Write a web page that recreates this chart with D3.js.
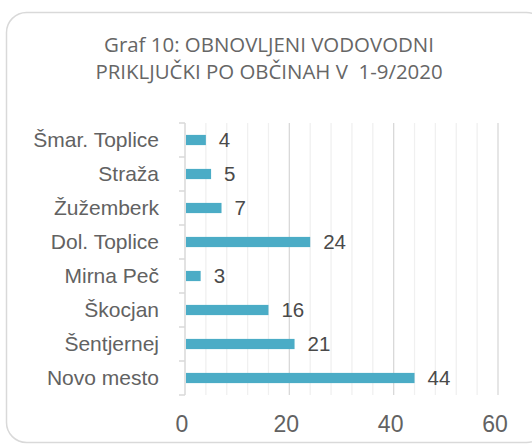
<!DOCTYPE html>
<html>
<head>
<meta charset="utf-8">
<script src="https://cdn.jsdelivr.net/npm/d3@7"></script>
<style>
  html, body { margin: 0; padding: 0; background: #fff; }
  svg { display: block; }
  .lbl { font-family: "Liberation Sans", Arial, Helvetica, sans-serif; }
  .ttl { font-family: "Open Sans", sans-serif; }
</style>
</head>
<body>
<div id="chart"></div>
<script>
(function(root){
    var d3 = root.d3;

    var titleLines = ["Graf 10: OBNOVLJENI VODOVODNI", "PRIKLJUČKI PO OBČINAH V  1-9/2020"];
    var categories = ["Šmar. Toplice", "Straža", "Žužemberk", "Dol. Toplice", "Mirna Peč", "Škocjan", "Šentjernej", "Novo mesto"];
    var values = [4, 5, 7, 24, 3, 16, 21, 44];
    var xTicks = [0, 20, 40, 60];
    var xMinorTicks = d3.range(0, 61, 4);

    var W = 532, H = 446;
    var plot = {left: 185, right: 498, top: 123, bottom: 395};

    var svg = d3.select("#chart").append("svg")
        .attr("width", W)
        .attr("height", H);

    // chart frame, right edge runs off the picture
    svg.append("rect")
        .attr("x", 6.5).attr("y", 12.5)
        .attr("width", 540).attr("height", 430)
        .attr("rx", 20).attr("ry", 20)
        .attr("fill", "#fff")
        .attr("stroke", "#d9d9d9")
        .attr("stroke-width", 1.5);

    var title = svg.append("g")
        .attr("class", "ttl")
        .attr("fill", "#666666");
    title.selectAll("text")
        .data(titleLines)
        .enter().append("text")
        .attr("x", 269)
        .attr("y", function(d, i){ return 52 + i * 27; })
        .attr("text-anchor", "middle")
        .style("white-space", "pre")
        .attr("font-size", 18)
        .text(function(d){ return d; });
    // fit title to the reference width
    var firstW = title.select("text").node().getComputedTextLength();
    title.selectAll("text").attr("font-size", 18 * 330 / firstW);

    var x = d3.scaleLinear()
        .domain([0, 60])
        .range([plot.left, plot.right]);

    var y = d3.scaleBand()
        .domain(categories)
        .range([plot.top, plot.bottom])
        .paddingInner(0.7)
        .paddingOuter(0.35);

    var step = (plot.bottom - plot.top) / categories.length;

    // minor gridlines
    svg.append("g").selectAll("line")
        .data(xMinorTicks.filter(function(t){ return t % 20 !== 0; }))
        .enter().append("line")
        .attr("x1", function(d){ return x(d); })
        .attr("x2", function(d){ return x(d); })
        .attr("y1", plot.top).attr("y2", plot.bottom)
        .attr("stroke", "#f0f0f0")
        .attr("stroke-width", 1.3);

    // major gridlines
    svg.append("g").selectAll("line")
        .data(xTicks.slice(1))
        .enter().append("line")
        .attr("x1", function(d){ return x(d); })
        .attr("x2", function(d){ return x(d); })
        .attr("y1", plot.top).attr("y2", plot.bottom)
        .attr("stroke", "#d9d9d9")
        .attr("stroke-width", 1.3);

    // category axis with ticks at band boundaries
    var yAxis = svg.append("g");
    yAxis.append("line")
        .attr("x1", plot.left).attr("x2", plot.left)
        .attr("y1", plot.top).attr("y2", plot.bottom)
        .attr("stroke", "#d9d9d9")
        .attr("stroke-width", 1.5);
    yAxis.selectAll("line.tick")
        .data(d3.range(categories.length + 1))
        .enter().append("line")
        .attr("class", "tick")
        .attr("x1", plot.left - 6).attr("x2", plot.left)
        .attr("y1", function(i){ return plot.top + i * step; })
        .attr("y2", function(i){ return plot.top + i * step; })
        .attr("stroke", "#d9d9d9")
        .attr("stroke-width", 1.5);
    yAxis.selectAll("text")
        .data(categories)
        .enter().append("text")
        .attr("class", "lbl")
        .attr("x", 159)
        .attr("y", function(d){ return y(d) + y.bandwidth() / 2; })
        .attr("dy", "0.35em")
        .attr("text-anchor", "end")
        .attr("font-size", 21)
        .attr("fill", "#626262")
        .text(function(d){ return d; });

    // value axis labels
    svg.append("g").selectAll("text")
        .data(xTicks)
        .enter().append("text")
        .attr("class", "lbl")
        .attr("x", function(d){ return x(d) - 3; })
        .attr("y", 432)
        .attr("text-anchor", "middle")
        .attr("font-size", 23)
        .attr("fill", "#626262")
        .text(function(d){ return d; });

    // bars
    svg.append("g").selectAll("rect")
        .data(values)
        .enter().append("rect")
        .attr("x", x(0) + 1)
        .attr("y", function(d, i){ return y(categories[i]); })
        .attr("width", function(d){ return x(d) - x(0) - 1; })
        .attr("height", y.bandwidth())
        .attr("fill", "#4bacc6");

    // data labels
    svg.append("g").selectAll("text")
        .data(values)
        .enter().append("text")
        .attr("class", "lbl")
        .attr("x", function(d){ return x(d) + 13; })
        .attr("y", function(d, i){ return y(categories[i]) + y.bandwidth() / 2; })
        .attr("dy", "0.36em")
        .attr("font-size", 20.5)
        .attr("fill", "#4a4a4a")
        .text(function(d){ return d; });
}(this));
</script>
</body>
</html>
